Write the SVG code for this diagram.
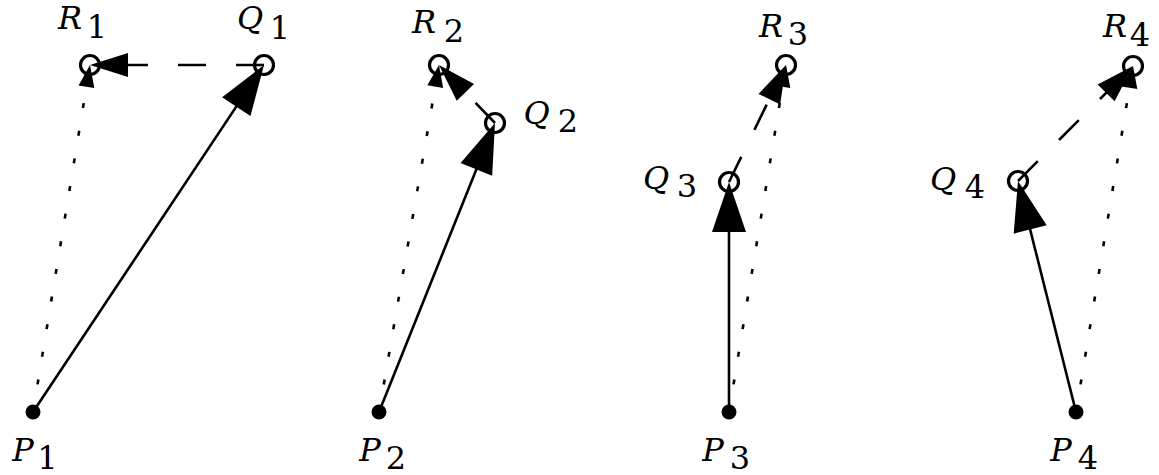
<svg xmlns="http://www.w3.org/2000/svg" width="1159" height="475" viewBox="0 0 1159 475">
<style>
.ln{fill:none;stroke:#000;stroke-width:2.6}
.dash{stroke-dasharray:28 30}
.dot{stroke-dasharray:5 23}
.ring{fill:none;stroke:#000;stroke-width:3.2}
.pt{fill:#000}
text{font-family:'DejaVu Serif',serif;font-size:32px;text-anchor:middle;fill:#000}
.lt{font-style:italic}
.dg{font-size:32px}
</style>
<defs>
<marker id="ahS" markerUnits="userSpaceOnUse" markerWidth="60" markerHeight="40" viewBox="-50 -20 60 40" refX="0" refY="0" orient="auto" overflow="visible"><path d="M6,0 L-44,-17 L-44,17 Z" fill="#000"/></marker>
<marker id="ahD" markerUnits="userSpaceOnUse" markerWidth="50" markerHeight="30" viewBox="-40 -15 50 30" refX="0" refY="0" orient="auto" overflow="visible"><path d="M6,0 L-32,-12 L-32,12 Z" fill="#000"/></marker>
<marker id="ahT" markerUnits="userSpaceOnUse" markerWidth="30" markerHeight="20" viewBox="-20 -10 30 20" refX="0" refY="0" orient="auto" overflow="visible"><path d="M6,0 L-16,-8 L-16,8 Z" fill="#000"/></marker>
</defs>
<g id="connectors">
<line class="ln dot" x1="33" y1="412" x2="89.03" y2="70.92" marker-end="url(#ahT)"/>
<line class="ln" x1="33" y1="412" x2="260.68" y2="69.99" marker-end="url(#ahS)"/>
<line class="ln dash" x1="264" y1="65" x2="96" y2="65" marker-end="url(#ahD)"/>
<line class="ln dot" x1="379" y1="412" x2="437.98" y2="70.91" marker-end="url(#ahT)"/>
<line class="ln" x1="379" y1="412" x2="492.77" y2="128.57" marker-end="url(#ahS)"/>
<line class="ln dash" x1="495" y1="123" x2="443.17" y2="69.32" marker-end="url(#ahD)"/>
<line class="ln dot" x1="729" y1="412" x2="785.03" y2="70.92" marker-end="url(#ahT)"/>
<line class="ln" x1="729" y1="412" x2="729" y2="188" marker-end="url(#ahS)"/>
<line class="ln dash" x1="729" y1="182" x2="783.37" y2="70.39" marker-end="url(#ahD)"/>
<line class="ln dot" x1="1076" y1="412" x2="1132.02" y2="71.92" marker-end="url(#ahT)"/>
<line class="ln" x1="1076" y1="412" x2="1019.46" y2="186.82" marker-end="url(#ahS)"/>
<line class="ln dash" x1="1018" y1="181" x2="1128.76" y2="70.24" marker-end="url(#ahD)"/>
</g>
<g id="P1"><circle class="pt" cx="33" cy="412" r="7.5"/><text class="lt" x="23" y="461">P</text><text class="dg" x="47.5" y="469">1</text></g>
<g id="Q1"><circle class="ring" cx="264" cy="65" r="9.5"/><text class="lt" x="250" y="29">Q</text><text class="dg" x="280" y="39">1</text></g>
<g id="R1"><circle class="ring" cx="90" cy="65" r="9.5"/><text class="lt" x="70" y="29">R</text><text class="dg" x="97" y="38">1</text></g>
<g id="P2"><circle class="pt" cx="379" cy="412" r="7.5"/><text class="lt" x="370" y="461">P</text><text class="dg" x="396" y="469">2</text></g>
<g id="Q2"><circle class="ring" cx="495" cy="123" r="9.5"/><text class="lt" x="536.5" y="124">Q</text><text class="dg" x="568" y="132">2</text></g>
<g id="R2"><circle class="ring" cx="439" cy="65" r="9.5"/><text class="lt" x="424" y="33">R</text><text class="dg" x="454" y="42">2</text></g>
<g id="P3"><circle class="pt" cx="729" cy="412" r="7.5"/><text class="lt" x="713" y="461">P</text><text class="dg" x="740" y="469">3</text></g>
<g id="Q3"><circle class="ring" cx="729" cy="182" r="9.5"/><text class="lt" x="656" y="189">Q</text><text class="dg" x="687" y="197">3</text></g>
<g id="R3"><circle class="ring" cx="786" cy="65" r="9.5"/><text class="lt" x="771" y="37">R</text><text class="dg" x="798" y="45">3</text></g>
<g id="P4"><circle class="pt" cx="1076" cy="412" r="7.5"/><text class="lt" x="1061" y="461">P</text><text class="dg" x="1088" y="469">4</text></g>
<g id="Q4"><circle class="ring" cx="1018" cy="181" r="9.5"/><text class="lt" x="943" y="190">Q</text><text class="dg" x="975" y="198">4</text></g>
<g id="R4"><circle class="ring" cx="1133" cy="66" r="9.5"/><text class="lt" x="1115" y="37">R</text><text class="dg" x="1140" y="46">4</text></g>
</svg>
